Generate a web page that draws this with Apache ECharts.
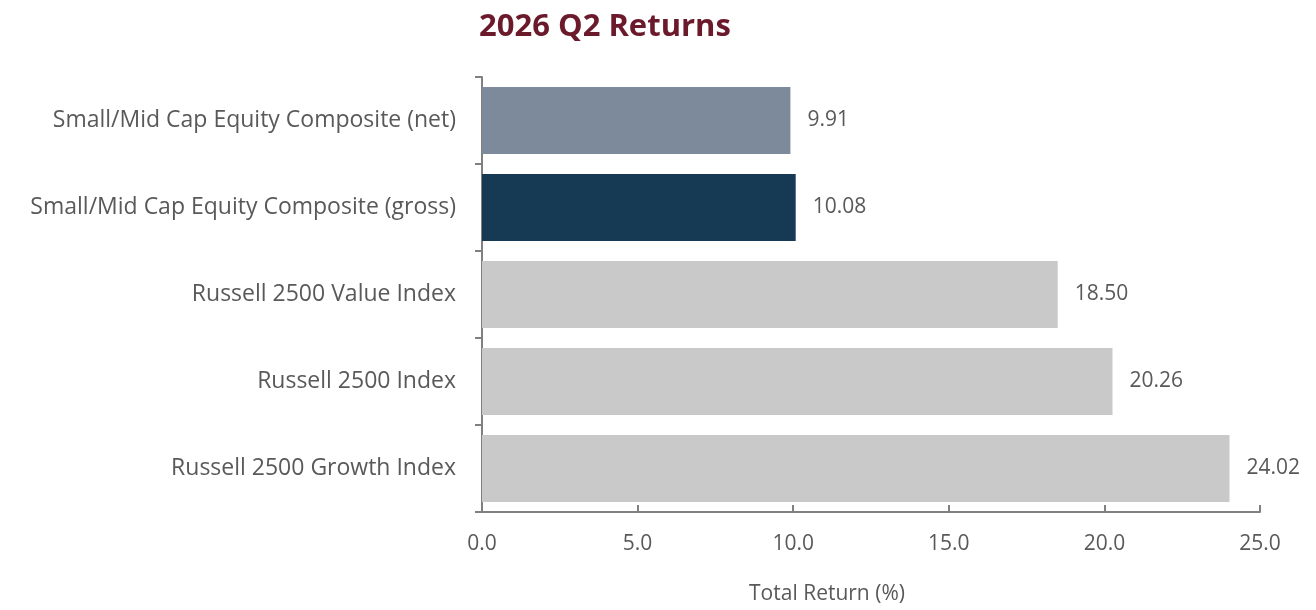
<!DOCTYPE html>
<html lang="en">
<head>
    <meta charset="UTF-8">
    <title>2026 Q2 Returns</title>
    <style>
        html, body {
            margin: 0;
            padding: 0;
            background: #ffffff;
        }

        #chart-container {
            width: 1316px;
            height: 610px;
        }
    </style>
    <script src="https://cdn.jsdelivr.net/npm/echarts@6.0.0/dist/echarts.min.js"></script>
</head>
<body>
    <div id="chart-container"></div>

    <script>
        // data
        var categories = [
            'Small/Mid Cap Equity Composite (net)',
            'Small/Mid Cap Equity Composite (gross)',
            'Russell 2500 Value Index',
            'Russell 2500 Index',
            'Russell 2500 Growth Index'
        ];
        var returns = [9.91, 10.08, 18.50, 20.26, 24.02];
        var barColors = ['#7d8a9b', '#163a53', '#c9c9c9', '#c9c9c9', '#c9c9c9'];

        var fontName = '"Open Sans", sans-serif';

        var myChart = echarts.init(document.getElementById('chart-container'));

        var option = {
            animation: false,
            title: {
                text: '2026 Q2 Returns',
                left: 474,
                top: 7,
                textStyle: {
                    color: '#6b1a2b',
                    fontSize: 31,
                    fontWeight: 'bold',
                    fontFamily: fontName
                }
            },
            grid: {
                left: 482,
                right: 56,
                top: 77,
                bottom: 97
            },
            xAxis: {
                type: 'value',
                min: 0,
                max: 25,
                interval: 5,
                name: 'Total Return (%)',
                nameLocation: 'middle',
                nameGap: 72,
                nameTextStyle: {
                    color: '#595959',
                    fontSize: 21,
                    fontFamily: fontName,
                    padding: [0, 88, 0, 0]
                },
                axisLine: {
                    show: true,
                    lineStyle: { color: '#808080', width: 2 }
                },
                axisTick: {
                    show: true,
                    inside: true,
                    length: 7,
                    lineStyle: { color: '#808080', width: 2 }
                },
                splitLine: { show: false },
                axisLabel: {
                    color: '#595959',
                    fontSize: 21,
                    fontFamily: fontName,
                    margin: 22,
                    formatter: function (v) { return v.toFixed(1); }
                }
            },
            yAxis: {
                type: 'category',
                data: categories,
                inverse: true,
                axisLine: {
                    show: true,
                    lineStyle: { color: '#808080', width: 2 }
                },
                axisTick: {
                    show: true,
                    length: 7,
                    lineStyle: { color: '#808080', width: 2 }
                },
                axisLabel: {
                    color: '#595959',
                    fontSize: 23,
                    fontFamily: fontName,
                    margin: 26,
                    padding: [4, 0, 0, 0]
                }
            },
            series: [
                {
                    type: 'bar',
                    data: returns.map(function (v, i) {
                        return { value: v, itemStyle: { color: barColors[i] } };
                    }),
                    barCategoryGap: '23%',
                    label: {
                        show: true,
                        position: 'right',
                        distance: 17,
                        color: '#595959',
                        fontSize: 21,
                        fontFamily: fontName,
                        padding: [5, 0, 0, 0],
                        formatter: function (p) { return p.value.toFixed(2); }
                    }
                }
            ]
        };

        myChart.setOption(option);
    </script>
</body>
</html>
